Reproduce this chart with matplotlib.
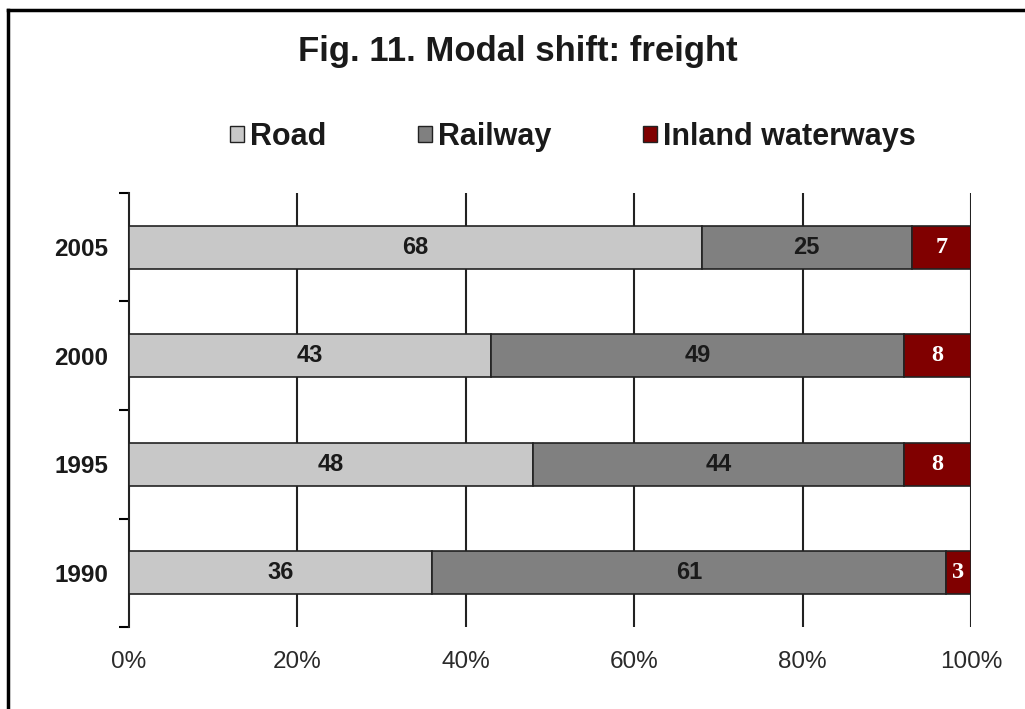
import matplotlib.pyplot as plt
import numpy as np
from matplotlib.lines import Line2D
from matplotlib.patches import Patch

years = ['1990', '1995', '2000', '2005']
road = [36, 48, 43, 68]
railway = [61, 44, 49, 25]
inland = [3, 8, 8, 7]
series_names = ['Road', 'Railway', 'Inland waterways']
colors = ['#C8C8C8', '#808080', '#800000']
xticks = [0, 20, 40, 60, 80, 100]

plt.rcParams['font.family'] = ['Liberation Sans', 'DejaVu Sans']
txt = '#1a1a1a'

fig = plt.figure(figsize=(10.25, 7.09), dpi=100)
ax = fig.add_axes([129 / 1025, 1 - 627 / 709, (971 - 129) / 1025, (627 - 193) / 709])

y = np.arange(len(years))
left = np.zeros(len(years))
for vals, col in zip([road, railway, inland], colors):
    ax.barh(y, vals, left=left, height=0.4, color=col, edgecolor='#222222', lw=1.2, zorder=3)
    left = left + np.array(vals)

# value labels
for i in range(len(years)):
    ax.text(road[i] / 2, y[i], str(road[i]), ha='center', va='center',
            fontsize=17, fontweight='bold', color=txt, zorder=4)
    ax.text(road[i] + railway[i] / 2, y[i], str(railway[i]), ha='center', va='center',
            fontsize=17, fontweight='bold', color=txt, zorder=4)
    ax.text(road[i] + railway[i] + inland[i] / 2, y[i], str(inland[i]), ha='center', va='center',
            fontsize=17.5, fontweight='bold', color='white', family='Liberation Serif', zorder=4)

ax.set_xlim(0, 100)
ax.set_ylim(-0.5, len(years) - 0.5)
ax.set_xticks(xticks)
ax.set_xticklabels([f'{v}%' for v in xticks], fontsize=17.5, color='#2a2a2a')
ax.tick_params(axis='x', length=0, pad=17)

ax.set_yticks(y)
ax.set_yticklabels(years, fontsize=17.5, fontweight='bold', color=txt)
ax.set_yticks(np.arange(-0.5, len(years)), minor=True)
ax.tick_params(axis='y', which='major', length=0, pad=15)
ax.tick_params(axis='y', which='minor', length=7, width=1.5, direction='out')

for s in ['top', 'right', 'bottom']:
    ax.spines[s].set_visible(False)
ax.spines['left'].set_linewidth(1.5)
ax.spines['left'].set_color('#222222')

for v in xticks[1:]:
    ax.axvline(v, color='#222222', lw=1.5, zorder=1)

fig.text(0.505, 1 - 51 / 709, 'Fig. 11. Modal shift: freight', ha='center', va='center',
         fontsize=25, fontweight='bold', color=txt)

handles = [Patch(facecolor=c, edgecolor='#222222', lw=1) for c in colors]
leg = fig.legend(handles, series_names, loc='center', bbox_to_anchor=(573 / 1025, 1 - 137 / 709),
                 ncol=3, frameon=False, handlelength=0.45, handleheight=0.45, handletextpad=0.2,
                 columnspacing=3.0, prop={'size': 22, 'weight': 'bold'})
for t in leg.get_texts():
    t.set_color(txt)

# outer frame (top and left edges visible)
fig.add_artist(Line2D([8 / 1025, 8 / 1025], [-0.05, 1 - 10 / 709], transform=fig.transFigure,
                      color='black', lw=2.5))
fig.add_artist(Line2D([8 / 1025, 1.05], [1 - 10 / 709, 1 - 10 / 709], transform=fig.transFigure,
                      color='black', lw=2.5))

fig.savefig('out.png', dpi=100)
